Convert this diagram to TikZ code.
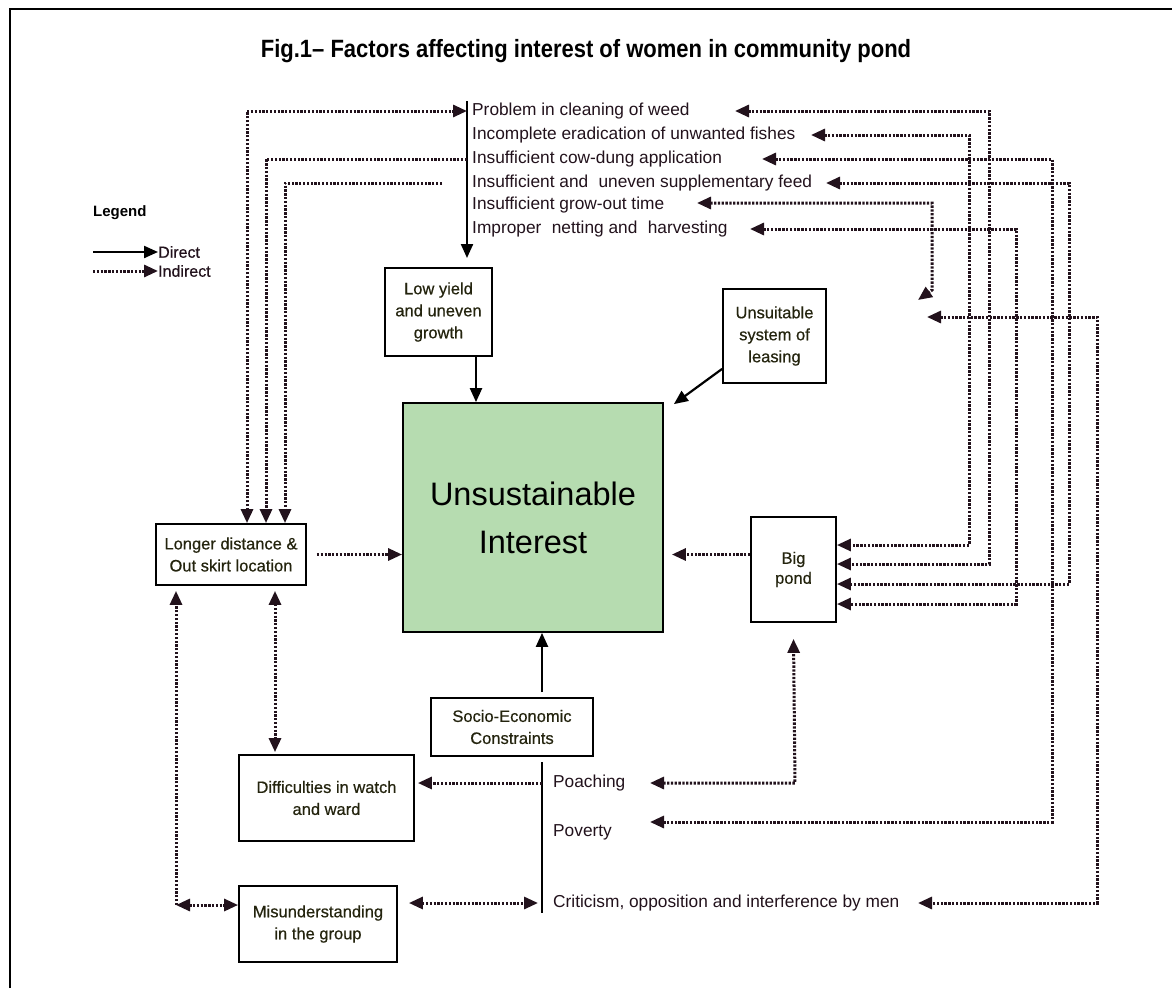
\documentclass[tikz,border=0pt]{standalone}
\usepackage{fontspec}
\setmainfont{Liberation Sans}
\newfontfamily\titlefont[FakeStretch=0.88]{Liberation Sans}
\newfontfamily\boxfont[FakeBold=0.5]{Liberation Sans}
\usetikzlibrary{arrows.meta}
\definecolor{ink}{RGB}{34,18,28}
\definecolor{boxtext}{RGB}{36,36,14}
\definecolor{pond}{RGB}{182,220,176}
\begin{document}
\begin{tikzpicture}[x=1pt,y=-1pt,
  >={Triangle[length=14pt,width=12pt]},
  box/.style={draw=black, line width=1.8pt, inner sep=0pt, align=center, text=boxtext,
    font=\boxfont\fontsize{16.5}{22}\selectfont},
  item/.style={anchor=west, inner sep=0pt, text=ink, font=\fontsize{17.3}{20}\selectfont},
  ind/.style={draw=ink, line width=3pt, dash pattern=on 2.3pt off 1.5pt},
  dir/.style={draw=black, line width=2.2pt}]
\fill[white] (0,0) rectangle (1172,988);
\useasboundingbox (0,0) rectangle (1172,988);
% frame
\draw[line width=2.5pt] (10,988) -- (10,9) -- (1172,9);
% title
\node[font=\titlefont\bfseries\fontsize{25}{28}\selectfont, inner sep=0pt] (title) at (586,51)
  {Fig.1– Factors affecting interest of women in community pond};
% legend
\node[font=\bfseries\fontsize{15}{18}\selectfont, anchor=west, inner sep=0pt] (leg) at (93,213) {Legend};
\coordinate (ldA) at (93,252);
\node[item, font=\boxfont\fontsize{16}{19}\selectfont] (ldir) at (158,252) {Direct};
\draw[dir,->] (ldA) -- (ldir.west);
\coordinate (liA) at (93,271);
\node[item, font=\boxfont\fontsize{16}{19}\selectfont] (lind) at (158,271) {Indirect};
\draw[ind,->] (liA) -- (lind.west);
% list of problems
\node[item] (p1) at (472,111) {Problem in cleaning of weed};
\node[item] (p2) at (472,135) {Incomplete eradication of unwanted fishes};
\node[item] (p3) at (472,159) {Insufficient cow-dung application};
\node[item] (p4) at (472,183) {Insufficient and\hspace{0.6em}uneven supplementary feed};
\node[item] (p5) at (472,205) {Insufficient grow-out time};
\node[item] (p6) at (472,229) {Improper\hspace{0.6em}netting and\hspace{0.6em}harvesting};
\coordinate (vT) at (467,101);
\coordinate (vB) at (467,258);
\draw[dir,->] (vT) -- (vB);
% boxes
\node[box, minimum width=107pt, minimum height=88pt] (low) at (438.5,312) {Low yield\\and uneven\\growth};
\node[box, minimum width=103pt, minimum height=94pt] (uns) at (774.5,336) {Unsuitable\\system of\\leasing};
\node[box, fill=pond, minimum width=260pt, minimum height=229pt, text=black,
  font=\fontsize{32.5}{48}\selectfont] (cen) at (533,517.5) {Unsustainable\\Interest};
\node[box, minimum width=150pt, minimum height=61pt] (lon) at (231,554.5) {Longer distance \&\\Out skirt location};
\node[box, minimum width=85pt, minimum height=105pt, font=\boxfont\fontsize{16.5}{20}\selectfont] (big) at (793.5,569.5) {Big\\pond};
\node[box, minimum width=162pt, minimum height=58pt] (soc) at (512,727) {Socio-Economic\\Constraints};
\node[box, minimum width=175pt, minimum height=86pt] (dif) at (326.5,798) {Difficulties in watch\\and ward};
\node[box, minimum width=158pt, minimum height=76pt] (mis) at (318,924) {Misunderstanding\\in the group};
% bottom list
\node[item] (poa) at (553,783) {Poaching};
\node[item] (pov) at (553,832) {Poverty};
\node[item] (cri) at (553,903) {Criticism, opposition and interference by men};
\coordinate (bT) at (542,762);
\coordinate (bB) at (542,913);
\draw[dir] (bT) -- (bB);
% direct arrows
\coordinate (lowA) at ([xshift=37.5pt]low.south);
\draw[dir,->] (lowA) -- (lowA |- cen.north);
\draw[dir,->] ([yshift=15pt]uns.south west) -- ([xshift=10pt,yshift=-2pt]cen.north east);
\draw[dir,->] ([yshift=5pt]soc.north -| bT) -- (cen.south -| bT);
% indirect arrows to central box
\draw[ind,->,shorten <=10pt] (lon.east) -- (cen.west |- lon.east);
\draw[ind,->,shorten >=8pt] (big.west |- lon.east) -- (cen.east |- lon.east);
% left lines from list
\draw[ind,<->] (247,0 |- lon.north) -- (247,0 |- p1.west) -- (vT |- p1.west);
\draw[ind,->] (vT |- p3.west) -- (266,0 |- p3.west) -- (266,0 |- lon.north);
\coordinate (q4) at (442,183);
\draw[ind,->] (q4) -- (285,0 |- q4) -- (285,0 |- lon.north);
% right lines
\coordinate (t1) at (735,111);
\coordinate (t2) at (811,135);
\coordinate (t3) at (762,159);
\coordinate (t4) at (826,183);
\coordinate (t5) at (697,203);
\coordinate (t6) at (750,229);
\coordinate (t7) at (927,317);
\coordinate (t5b) at (918,300);
\coordinate (t3b) at (650,822);
\coordinate (t7b) at (918,903);
\coordinate (pa) at (650,783);
\draw[ind,<->] (t1) -- (989,111) -- (989,564) -- (big.east |- 0,564);
\draw[ind,<->] (t2) -- (969,135) -- (969,545) -- (big.east |- 0,545);
\draw[ind,<->] (t3) -- (1052,159) -- (1052,822) -- (t3b);
\draw[ind,<->] (t4) -- (1069,183) -- (1069,584) -- (big.east |- 0,584);
\draw[ind,<->] (t5) -- (932,203) -- (932,290) -- (t5b);
\draw[ind,<->] (t6) -- (1016,229) -- (1016,604) -- (big.east |- 0,604);
\draw[ind,<->] (t7) -- (1097,317) -- (1097,903) -- (t7b);
\draw[ind,<->] (pa) -- (795,783) -- ([yshift=-16pt]big.south);
% bottom-left connections
\draw[ind,->,shorten >=3pt] (bT |- poa.west) -- (dif.east |- poa.west);
\draw[ind,<->,shorten <=11pt,shorten >=4pt] (mis.east |- cri.west) -- (bT |- cri.west);
\coordinate (lc) at (176,905);
\draw[ind,->,shorten >=5pt] (lc) -- (lc |- lon.south);
\draw[ind,<->] (lc) -- (mis.west |- lc);
\draw[ind,<->,shorten <=5pt,shorten >=2pt] (275,0 |- lon.south) -- (275,0 |- dif.north);
\end{tikzpicture}
\end{document}
